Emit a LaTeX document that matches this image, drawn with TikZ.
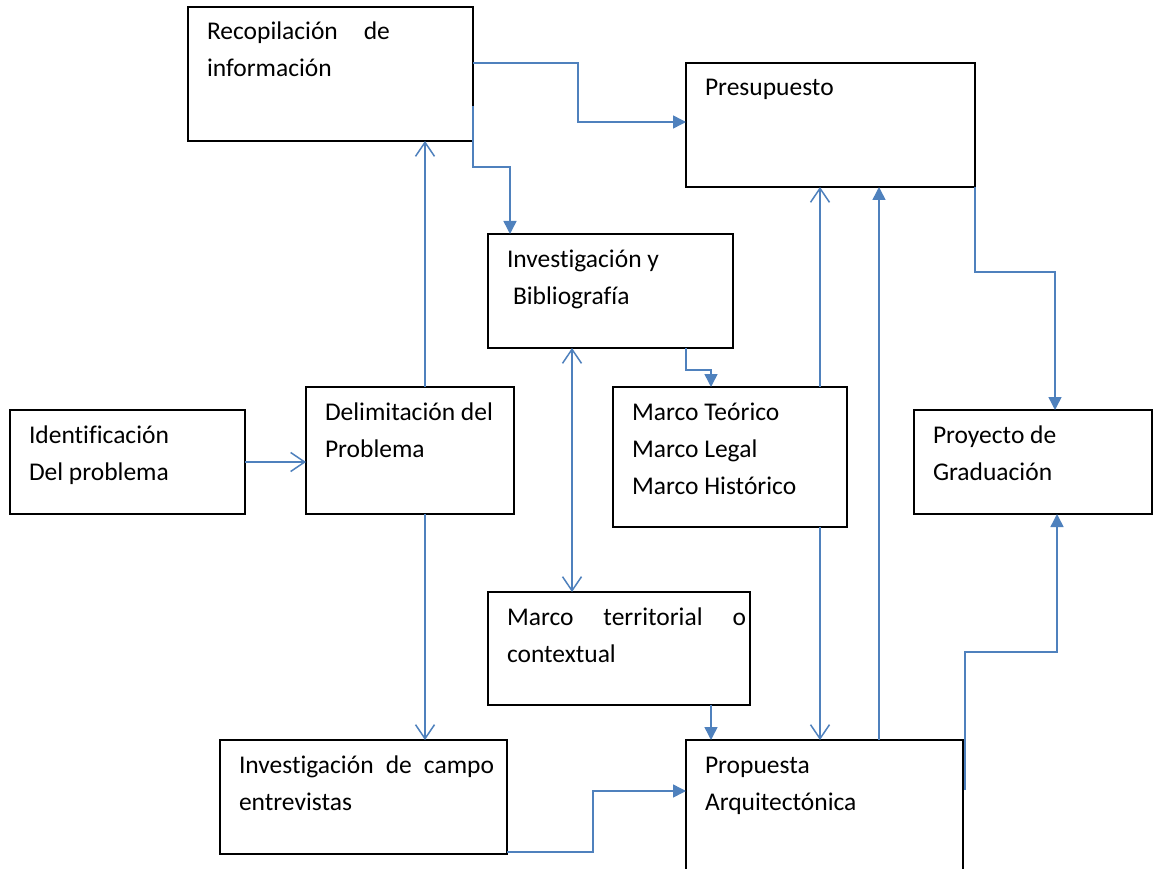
\documentclass[tikz,border=0pt]{standalone}
\usepackage{fontspec}
\setmainfont[Ligatures=NoCommon]{Carlito}
\usetikzlibrary{arrows.meta}
\definecolor{lnblue}{RGB}{79,129,189}
\newcommand{\bxt}[3]{\parbox[c][#2pt][t]{#1pt}{\fontsize{25.5pt}{37pt}\selectfont\rule{0pt}{33pt}#3}}
\begin{document}
\begin{tikzpicture}[x=1pt,y=-1pt,
  box/.style={draw=black,line width=1.3pt,fill=white,rectangle,anchor=north west,inner xsep=19pt,inner ysep=0pt,outer sep=0pt},
  conn/.style={draw=lnblue,line width=1.5pt},
  filled/.style={conn,-{Triangle[length=13pt,width=13pt]}},
  openar/.style={conn,-{Straight Barb[length=14pt,width=19pt]}},
  openboth/.style={conn,{Straight Barb[length=14pt,width=19pt]}-{Straight Barb[length=14pt,width=19pt]}}]
\useasboundingbox (0,0) rectangle (1162,869);
\clip (0,0) rectangle (1162,869);
\fill[white] (0,0) rectangle (1162,869);
% boxes
\node[box] (recop) at (188,7) {\bxt{247}{134}{\hbox to 183pt{Recopilación\hfill de}\\información}};
\node[box] (pres) at (686,63) {\bxt{251}{124}{Presupuesto}};
\node[box] (invb) at (488,234) {\bxt{207}{114}{Investigación y\\\hspace*{6pt}Bibliografía}};
\node[box] (ident) at (10,410) {\bxt{197}{104}{Identificación\\Del problema}};
\node[box] (delim) at (306,387) {\bxt{170}{127}{Delimitación del\\Problema}};
\node[box] (marco) at (613,387) {\bxt{196}{140}{Marco Teórico\\Marco Legal\\Marco Histórico}};
\node[box] (proy) at (914,410) {\bxt{200}{104}{Proyecto de\\Graduación}};
\node[box] (mterr) at (488,592) {\bxt{224}{113}{\rlap{\hbox to 239pt{Marco\hfill territorial\hfill o}}\\contextual}};
\node[box] (campo) at (220,740) {\bxt{249}{114}{\rlap{\hbox to 255pt{Investigación\hfill de\hfill campo}}\\entrevistas}};
\node[box] (prop) at (686,740) {\bxt{239}{160}{Propuesta\\Arquitectónica}};
% connectors
\draw[openar] (ident.east) -- (ident.east -| delim.west);
\draw[openar] ([xshift=15pt]delim.north) -- ([xshift=15pt]delim.north |- recop.south);
\draw[openar] ([xshift=15pt]delim.south) -- ([xshift=15pt]delim.south |- campo.north);
\draw[filled] ([yshift=-56pt]recop.north east) -- ++(105,0) |- ([yshift=-59pt]pres.north west);
\draw[filled] ([yshift=35pt]recop.south east) -- ++(0,61) -| ([xshift=22pt]invb.north west);
\draw[openboth] ([xshift=84pt]invb.south west) -- ([xshift=84pt]mterr.north west);
\draw[filled] ([xshift=-47pt]invb.south east) -- ++(0,22) -| ([xshift=98pt]marco.north west);
\draw[filled] ([xshift=-39pt]mterr.south east) -- ([xshift=-39pt]mterr.south east |- prop.north);
\draw[filled] ([yshift=2pt]campo.south east) -- ++(86,0) |- ([yshift=-51pt]prop.north west);
\draw[openar] ([xshift=207pt]marco.north west) -- ([xshift=134pt]pres.south west);
\draw[openar] ([xshift=207pt]marco.south west) -- ([xshift=134pt]prop.north west);
\draw[filled] ([xshift=193pt]prop.north west) -- ([xshift=193pt]pres.south west);
\draw[filled] (pres.south east) -- ++(0,85) -| ([xshift=141pt]proy.north west);
\draw[filled] ([xshift=2pt,yshift=-50pt]prop.north east) -- ++(0,-138) -| ([xshift=143pt]proy.south west);
\end{tikzpicture}
\end{document}
